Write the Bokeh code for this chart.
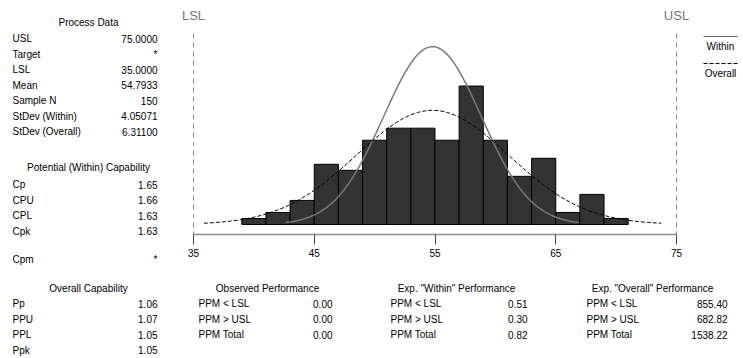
import numpy as np
from bokeh.plotting import figure
from bokeh.layouts import row, column
from bokeh.models import Range1d, FixedTicker, ColumnDataSource
from bokeh.core.properties import value
from bokeh.embed import file_html
from bokeh.resources import INLINE

# ---------------- data ----------------
LSL = 35.0
USL = 75.0
MEAN = 54.7933
N = 150
SD_WITHIN = 4.05071
SD_OVERALL = 6.31100
bin_edges = [39, 41, 43, 45, 47, 49, 51, 53, 55, 57, 59, 61, 63, 65, 67, 69, 71]
counts = [1, 2, 4, 10, 9, 14, 16, 16, 14, 23, 14, 8, 11, 2, 5, 1]
x_ticks = [35, 45, 55, 65, 75]

process_labels = ["USL", "Target", "LSL", "Mean", "Sample N", "StDev (Within)", "StDev (Overall)"]
process_values = ["75.0000", "*", "35.0000", "54.7933", "150", "4.05071", "6.31100"]
within_labels = ["Cp", "CPU", "CPL", "Cpk", "Cpm"]
within_values = ["1.65", "1.66", "1.63", "1.63", "*"]
overall_labels = ["Pp", "PPU", "PPL", "Ppk"]
overall_values = ["1.06", "1.07", "1.05", "1.05"]
perf_labels = ["PPM < LSL", "PPM > USL", "PPM Total"]
observed_values = ["0.00", "0.00", "0.00"]
exp_within_values = ["0.51", "0.30", "0.82"]
exp_overall_values = ["855.40", "682.82", "1538.22"]

FONT = value("Liberation Sans")
FS = "10px"

# ---------------- main histogram figure ----------------
MAIN_W, MAIN_H = 563, 270
FRAME_H = 234
PX_PER_X = 12.075
PX_PER_Y = 6.02
x0 = LSL - 13 / PX_PER_X
x1 = x0 + MAIN_W / PX_PER_X
y0 = -10 / PX_PER_Y
y1 = y0 + FRAME_H / PX_PER_Y

def px_x(px):  # page x -> data x (main figure starts at page x=180)
    return x0 + (px - 180) / PX_PER_X

def px_y(py):  # page y -> data y
    return y1 - py / PX_PER_Y

p = figure(width=MAIN_W, height=MAIN_H, output_backend="svg", toolbar_location=None,
           x_range=Range1d(x0, x1), y_range=Range1d(y0, y1),
           min_border_left=0, min_border_right=0, min_border_top=0,
           min_border_bottom=MAIN_H - FRAME_H)
p.outline_line_color = None
p.xgrid.visible = False
p.ygrid.visible = False
p.yaxis.visible = False
p.background_fill_color = "white"
p.border_fill_color = "white"

ax = p.xaxis[0]
ax.ticker = FixedTicker(ticks=x_ticks)
ax.bounds = (LSL, USL)
ax.axis_line_color = "#8c8c8c"
ax.axis_line_width = 1.5
ax.major_tick_line_color = "#444444"
ax.major_tick_in = 0
ax.major_tick_out = 10
ax.minor_tick_line_color = None
ax.major_label_text_font = "Liberation Sans"
ax.major_label_text_font_size = FS
ax.major_label_text_color = "black"
ax.major_label_standoff = 4

# histogram
src = ColumnDataSource(dict(left=bin_edges[:-1], right=bin_edges[1:], top=counts))
p.quad(left="left", right="right", bottom=0, top="top", source=src,
       fill_color="#333333", line_color="black", line_width=1)

# normal curves scaled to counts
bw = bin_edges[1] - bin_edges[0]
xw = np.linspace(MEAN - 3 * SD_WITHIN, MEAN + 3 * SD_WITHIN, 200)
yw = N * bw * np.exp(-0.5 * ((xw - MEAN) / SD_WITHIN) ** 2) / (SD_WITHIN * np.sqrt(2 * np.pi))
xo = np.linspace(MEAN - 3 * SD_OVERALL, MEAN + 3 * SD_OVERALL, 200)
yo = N * bw * np.exp(-0.5 * ((xo - MEAN) / SD_OVERALL) ** 2) / (SD_OVERALL * np.sqrt(2 * np.pi))
p.line(xw, yw, line_color="#7a7a7a", line_width=1.5)
p.line(xo, yo, line_color="black", line_width=1, line_dash="4 2")

# spec limit lines and labels
p.segment(x0=[LSL, USL], y0=[px_y(33)] * 2, x1=[LSL, USL], y1=[y0] * 2,
          line_color="#888888", line_width=1, line_dash="5 4")
p.text(x=[LSL, USL], y=[px_y(15)] * 2, text=["LSL", "USL"], text_align="center",
       text_baseline="middle", text_font=FONT, text_font_size="13px", text_color="#777777")

# legend (custom)
lx0, lx1 = px_x(703), px_x(737)
p.segment(x0=[lx0], y0=[px_y(36)], x1=[lx1], y1=[px_y(36)], line_color="#666666", line_width=1.2)
p.segment(x0=[lx0], y0=[px_y(63)], x1=[lx1], y1=[px_y(63)], line_color="black", line_width=1,
          line_dash="4 2")
p.text(x=[px_x(720)] * 2, y=[px_y(46), px_y(73)], text=["Within", "Overall"],
       text_align="center", text_baseline="middle", text_font=FONT, text_font_size=FS,
       text_color="black")

# ---------------- helper for text panels ----------------
def panel(w, h):
    f = figure(width=w, height=h, output_backend="svg", toolbar_location=None,
               x_range=Range1d(0, w), y_range=Range1d(h, 0),
               min_border=0)
    f.axis.visible = False
    f.grid.visible = False
    f.outline_line_color = None
    return f

def table(f, ox, oy, header, hx, labels, lx, values, vx, y_head, y_rows):
    f.text(x=[hx - ox], y=[y_head - oy], text=[header], text_align="center",
           text_baseline="middle", text_font=FONT, text_font_size=FS, text_color="black")
    f.text(x=[lx - ox] * len(labels), y=[yy - oy for yy in y_rows], text=labels,
           text_align="left", text_baseline="middle", text_font=FONT, text_font_size=FS,
           text_color="black")
    f.text(x=[vx - ox] * len(values), y=[yy - oy for yy in y_rows], text=values,
           text_align="right", text_baseline="middle", text_font=FONT, text_font_size=FS,
           text_color="black")

# left panel
left = panel(180, 358)
table(left, 0, 0, "Process Data", 88, process_labels, 12, process_values, 157,
      22, [38 + 15.5 * i for i in range(7)])
table(left, 0, 0, "Potential (Within) Capability", 88, within_labels, 12, within_values, 157,
      167, [184, 199.5, 215, 230.5, 259])
table(left, 0, 0, "Overall Capability", 88, overall_labels, 12, overall_values, 157,
      288, [303, 318.5, 334, 349.5])

# bottom panel
bottom = panel(563, 88)
rows_y = [303, 318.5, 334]
table(bottom, 180, 270, "Observed Performance", 267, perf_labels, 198, observed_values, 332,
      288, rows_y)
table(bottom, 180, 270, 'Exp. "Within" Performance', 456, perf_labels, 390, exp_within_values, 527,
      288, rows_y)
table(bottom, 180, 270, 'Exp. "Overall" Performance', 652, perf_labels, 586, exp_overall_values, 727,
      288, rows_y)

layout = row(left, column(p, bottom, spacing=0), spacing=0)
open("out.html", "w").write(file_html(layout, INLINE))
